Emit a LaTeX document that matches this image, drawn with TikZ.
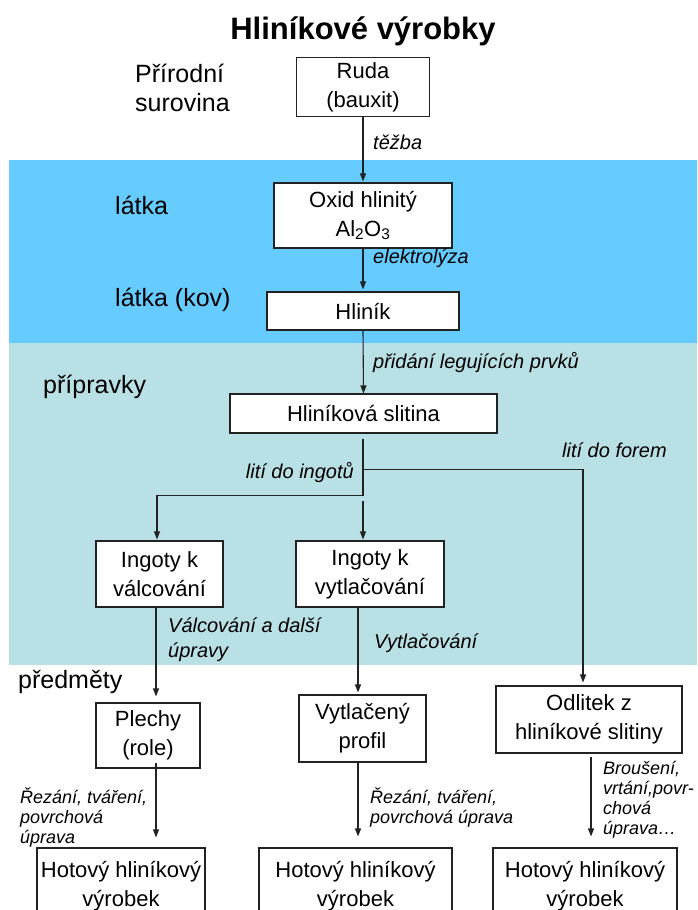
\documentclass[tikz,border=0pt]{standalone}
\usepackage{fontspec}
\setmainfont{Liberation Sans}
\usetikzlibrary{arrows.meta,calc}
\definecolor{bandblue}{HTML}{66CCFF}
\definecolor{bandteal}{HTML}{B9E0E4}
\definecolor{ink}{HTML}{222222}
\begin{document}
\begin{tikzpicture}[x=1pt,y=-1pt,
  box/.style={draw=ink, line width=1.1pt, fill=white, align=center, inner sep=0pt, font=\fontsize{22}{29}\selectfont},
  lab/.style={inner sep=0pt, font=\fontsize{25}{29}\selectfont, align=left},
  note/.style={inner sep=0pt, font=\fontsize{20}{25}\selectfont\itshape, align=left},
  small/.style={inner sep=0pt, font=\fontsize{18}{20}\selectfont\itshape, align=left},
  arr/.style={draw=ink, line width=1.1pt, -{Triangle[length=8pt,width=6pt]}},
  ln/.style={draw=ink, line width=1.1pt}]
\useasboundingbox (0,0) rectangle (697,910);
\fill[bandblue] (9,160) rectangle (697,343);
\fill[bandteal] (9,343) rectangle (697,665);

\node[inner sep=0pt, font=\fontsize{31}{36}\selectfont\bfseries, anchor=base] (title) at (363,39) {Hliníkové výrobky};

% boxes
\node[box, minimum width=133pt, minimum height=59pt] (ruda) at (363,87) {Ruda\\(bauxit)};
\node[box, minimum width=178pt, minimum height=65pt] (oxid) at (363,215.5) {Oxid hlinitý\\Al\textsubscript{2}O\textsubscript{3}};
\node[box, minimum width=192pt, minimum height=38pt] (hlin) at (363,311) {Hliník};
\node[box, minimum width=267pt, minimum height=39pt] (slit) at (363.5,413.5) {Hliníková slitina};
\node[box, minimum width=127pt, minimum height=66pt] (ingv) at (159.5,574) {Ingoty k\\válcování};
\node[box, minimum width=148pt, minimum height=66pt] (ingx) at (370,574) {Ingoty k\\vytlačování};
\node[box, minimum width=104pt, minimum height=65pt] (plech) at (148,735.5) {Plechy\\(role)};
\node[box, minimum width=127pt, minimum height=67pt] (vytp) at (362.5,728.5) {Vytlačený\\profil};
\node[box, minimum width=186pt, minimum height=67pt] (odl) at (589,719.5) {Odlitek z\\hliníkové slitiny};
\node[box, minimum width=168pt, minimum height=76pt] (hot1) at (121,886) {Hotový hliníkový\\výrobek};
\node[box, minimum width=193pt, minimum height=76pt] (hot2) at (355.5,886) {Hotový hliníkový\\výrobek};
\node[box, minimum width=184pt, minimum height=76pt] (hot3) at (585,886) {Hotový hliníkový\\výrobek};

% left labels
\node[lab, anchor=west] (l1) at (135,88) {Přírodní\\surovina};
\node[lab, anchor=west] (l2) at (115,205) {látka};
\node[lab, anchor=west] (l3) at (115,300) {látka (kov)};
\node[lab, anchor=west] (l4) at (43,387) {přípravky};
\node[lab, anchor=west] (l5) at (18,682) {předměty};

% process notes
\node[note, anchor=west] (n1) at (373,142) {těžba};
\node[note, anchor=west] (n2) at (373,258) {elektrolýza};
\node[note, anchor=west] (n3) at (373,363) {přidání legujících prvků};
\node[note, anchor=east] (n4) at (354,473) {lití do ingotů};
\node[note, anchor=west] (n5) at (562,450) {lití do forem};
\node[note, anchor=west] (n6) at (168,640) {Válcování a další\\úpravy};
\node[note, anchor=west] (n7) at (374,643) {Vytlačování};
\node[small, anchor=west] (n8) at (20,817) {Řezání, tváření,\\povrchová\\úprava};
\node[small, anchor=west] (n9) at (370,807) {Řezání, tváření,\\povrchová úprava};
\node[small, anchor=west] (n10) at (603,800) {Broušení,\\vrtání,povr-\\chová\\úprava…};

% connectors
\draw[arr] (ruda.south) -- ($(oxid.north)+(0,-1)$);
\draw[arr] (oxid.south) -- ($(hlin.north)+(0,-2)$);
\draw[arr] (hlin.south) -- (slit.north);
\draw[arr] ($(slit.south)+(-0.5,5)$) -- ($(slit.south)+(-0.5,62)$) -| ($(ingv.north)+(-2.5,-1)$);
\draw[arr] ($(slit.south)+(-0.5,67)$) -- ($(ingx.north)+(-7,-1)$);
\draw[arr] ($(slit.south)+(-0.5,36)$) -| ($(odl.north)+(-6,-3)$);
\draw[arr] ($(ingv.south)+(-3.5,0)$) -- ($(plech.north)+(8,-6)$);
\draw[arr] ($(ingx.south)+(-12,0)$) -- ($(vytp.north)+(-4.5,-2)$);
\draw[arr] ($(plech.south)+(8,-6)$) -- ($(hot1.north)+(35,-10)$);
\draw[arr] ($(vytp.south)+(-4.5,0)$) -- ($(hot2.north)+(2.5,-11)$);
\draw[arr] ($(odl.south)+(2,3)$) -- ($(hot3.north)+(6,-11)$);
\end{tikzpicture}
\end{document}
